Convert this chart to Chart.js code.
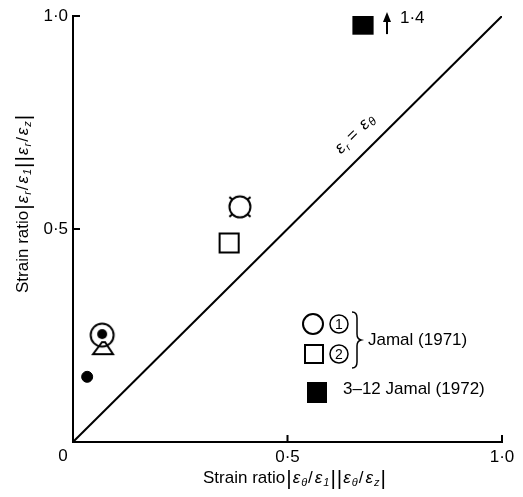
<!DOCTYPE html>
<html>
<head>
<meta charset="utf-8">
<script src="https://cdn.jsdelivr.net/npm/chart.js@4.4.1/dist/chart.umd.min.js"></script>
<style>
  body { margin: 0; background: #fff; }
  canvas { display: block; }
</style>
</head>
<body>
<canvas id="graph" width="523" height="497"></canvas>
<script>
// values
const soloDotX = [0.033];
const soloDotY = [0.153];
const ringDotX = [0.068];
const ringDotY = [0.251];
const triangleX = [0.070];
const triangleY = [0.218];
const tickedCircleX = [0.389];
const tickedCircleY = [0.552];
const openSquareX = [0.364];
const openSquareY = [0.467];
const filledSquareX = [0.676];
const filledSquareY = [0.981];
const equalLineX = [0, 1];
const equalLineY = [0, 1];
const xTickLabels = ['0', '0·5', '1·0'];
const yTickLabels = ['', '0·5', '1·0'];
const offScaleNote = '1·4';
const legendTop = 'Jamal (1971)';
const legendBottom = '3–12 Jamal (1972)';

const FONT = "'Liberation Sans', Arial, sans-serif";

function pts(xs, ys) {
  return xs.map((x, i) => ({ x: x, y: ys[i] }));
}

function marker(size, draw) {
  const c = document.createElement('canvas');
  c.width = size; c.height = size;
  const g = c.getContext('2d');
  g.strokeStyle = '#000'; g.fillStyle = '#000'; g.lineWidth = 2;
  draw(g, size / 2);
  return c;
}

const tickedCircle = marker(36, (g, m) => {
  g.beginPath(); g.arc(m, m, 10.5, 0, Math.PI * 2); g.stroke();
  [45, 135, 225, 315].forEach(a => {
    const r = a * Math.PI / 180;
    g.beginPath();
    g.moveTo(m + Math.cos(r) * 10, m + Math.sin(r) * 10);
    g.lineTo(m + Math.cos(r) * 15, m + Math.sin(r) * 14);
    g.stroke();
  });
});

const ringDot = marker(30, (g, m) => {
  g.beginPath(); g.arc(m, m, 11.5, 0, Math.PI * 2); g.stroke();
  g.beginPath(); g.arc(m, m - 1, 5, 0, Math.PI * 2); g.fill();
});

const flatTriangle = marker(26, (g, m) => {
  g.beginPath();
  g.moveTo(m - 1, m - 7); g.lineTo(m + 2, m - 7);
  g.lineTo(m + 10, m + 5); g.lineTo(m - 10, m + 5);
  g.closePath(); g.stroke();
});

// text with subscripts
function richWidth(ctx, segs) {
  let w = 0;
  segs.forEach(s => { ctx.font = s.f; w += ctx.measureText(s.t).width + (s.gap || 0); });
  return w;
}
function drawRich(ctx, segs, x, y) {
  ctx.textBaseline = 'middle';
  ctx.textAlign = 'left';
  segs.forEach(s => {
    ctx.font = s.f;
    ctx.fillText(s.t, x, y + (s.dy || 0));
    x += ctx.measureText(s.t).width + (s.gap || 0);
  });
}
function ratioLabel(sym) {
  const up = '17px ' + FONT, it = 'italic 17px ' + FONT, sub = 'italic 11px ' + FONT, bar = '21px ' + FONT;
  return [
    { t: 'Strain ratio', f: up, gap: 1 },
    { t: '|', f: bar, dy: 1, gap: 1 },
    { t: 'ε', f: it, gap: 1 }, { t: sym, f: sub, dy: 5, gap: 1 }, { t: '/', f: up, gap: 2 },
    { t: 'ε', f: it, gap: 1 }, { t: '1', f: sub, dy: 5, gap: 1 },
    { t: '|', f: bar, dy: 1, gap: 1 }, { t: '|', f: bar, dy: 1, gap: 1 },
    { t: 'ε', f: it, gap: 1 }, { t: sym, f: sub, dy: 5, gap: 1 }, { t: '/', f: up, gap: 2 },
    { t: 'ε', f: it, gap: 1 }, { t: 'z', f: sub, dy: 5, gap: 1 },
    { t: '|', f: bar, dy: 1 }
  ];
}

const extras = {
  id: 'extras',
  afterDraw(chart) {
    const ctx = chart.ctx;
    const xs = chart.scales.x, ys = chart.scales.y;
    const X = v => xs.getPixelForValue(v), Y = v => ys.getPixelForValue(v);
    ctx.save();
    ctx.fillStyle = '#000'; ctx.strokeStyle = '#000';

    // inward ticks
    ctx.lineWidth = 2;
    ctx.beginPath();
    ctx.moveTo(X(0.5), Y(0)); ctx.lineTo(X(0.5), Y(0) - 7);
    ctx.moveTo(X(1), Y(0)); ctx.lineTo(X(1), Y(0) - 7);
    ctx.moveTo(X(0), Y(0.5)); ctx.lineTo(X(0) + 7, Y(0.5));
    ctx.moveTo(X(0), Y(1)); ctx.lineTo(X(0) + 7, Y(1));
    ctx.stroke();

    // origin label
    ctx.font = '17px ' + FONT;
    ctx.textAlign = 'center'; ctx.textBaseline = 'middle';
    ctx.fillText(xTickLabels[0], X(0) - 10, Y(0) + 14);

    // axis titles
    drawRich(ctx, ratioLabel('θ'), 203, 478);
    ctx.save();
    ctx.translate(23, 293);
    ctx.rotate(-Math.PI / 2);
    drawRich(ctx, ratioLabel('r'), 0, 0);
    ctx.restore();

    // off-scale arrow next to the top square
    const ax = X(filledSquareX[0]) + 24, ay = Y(filledSquareY[0]);
    ctx.lineWidth = 2;
    ctx.beginPath(); ctx.moveTo(ax, ay + 10); ctx.lineTo(ax, ay - 4); ctx.stroke();
    ctx.beginPath(); ctx.moveTo(ax - 4, ay - 2); ctx.lineTo(ax, ay - 12); ctx.lineTo(ax + 4, ay - 2); ctx.closePath(); ctx.fill();
    ctx.font = '17px ' + FONT; ctx.textAlign = 'left';
    ctx.fillText(offScaleNote, ax + 13, ay - 6);

    // label along the equality line
    const t = 0.69, px = X(t), py = Y(t);
    const ang = Math.atan2(Y(1) - Y(0), X(1) - X(0));
    ctx.save();
    ctx.translate(px + Math.sin(ang) * 20, py - Math.cos(ang) * 20);
    ctx.rotate(ang);
    const eq = [
      { t: 'ε', f: 'italic 17px ' + FONT, gap: 1 }, { t: 'r', f: 'italic 10px ' + FONT, dy: 5, gap: 5 },
      { t: '=', f: '17px ' + FONT, gap: 7 },
      { t: 'ε', f: 'italic 17px ' + FONT, gap: 1 }, { t: 'θ', f: 'italic 12px ' + FONT, dy: 4 }
    ];
    drawRich(ctx, eq, -richWidth(ctx, eq) / 2, 0);
    ctx.restore();

    // legend
    ctx.lineWidth = 2;
    ctx.beginPath(); ctx.arc(313, 324, 10, 0, Math.PI * 2); ctx.stroke();
    ctx.strokeRect(305, 345, 18, 18);
    ctx.lineWidth = 1.5;
    ctx.font = '14px ' + FONT; ctx.textAlign = 'center';
    [['1', 324], ['2', 354]].forEach(([d, cy]) => {
      ctx.beginPath(); ctx.arc(339, cy, 9, 0, Math.PI * 2); ctx.stroke();
      ctx.fillText(d, 339, cy + 1);
    });
    // brace
    ctx.lineWidth = 1.5;
    ctx.beginPath();
    ctx.moveTo(352, 312);
    ctx.quadraticCurveTo(357, 312, 357, 318);
    ctx.lineTo(357, 334);
    ctx.quadraticCurveTo(357, 339, 361, 340);
    ctx.quadraticCurveTo(357, 341, 357, 346);
    ctx.lineTo(357, 362);
    ctx.quadraticCurveTo(357, 368, 352, 368);
    ctx.stroke();
    ctx.font = '17px ' + FONT; ctx.textAlign = 'left';
    ctx.fillText(legendTop, 368, 340);
    ctx.fillRect(307, 382, 20, 21);
    ctx.fillText(legendBottom, 343, 389);

    ctx.restore();
  }
};

const ctx = document.getElementById('graph').getContext('2d');
new Chart(ctx, {
  type: 'scatter',
  data: {
    datasets: [
      { data: pts(ringDotX, ringDotY), pointStyle: ringDot, pointRadius: 12, order: 1 },
      { data: pts(triangleX, triangleY), pointStyle: flatTriangle, pointRadius: 10, order: 2 },
      { data: pts(soloDotX, soloDotY), pointStyle: 'circle', pointRadius: 5.5, backgroundColor: '#000', borderColor: '#000', order: 1 },
      { data: pts(tickedCircleX, tickedCircleY), pointStyle: tickedCircle, pointRadius: 12, order: 1 },
      { data: pts(openSquareX, openSquareY), pointStyle: 'rect', pointRadius: 13.5, backgroundColor: 'rgba(0,0,0,0)', borderColor: '#000', borderWidth: 2, order: 1 },
      { data: pts(filledSquareX, filledSquareY), pointStyle: 'rect', pointRadius: 15, backgroundColor: '#000', borderColor: '#000', borderWidth: 0, order: 1 },
      { type: 'line', data: pts(equalLineX, equalLineY), borderColor: '#000', borderWidth: 2, pointRadius: 0, fill: false, order: 3 }
    ]
  },
  options: {
    responsive: false,
    animation: false,
    devicePixelRatio: 1,
    events: [],
    layout: { padding: { top: 16, right: 21, left: 0, bottom: 0 } },
    plugins: { legend: { display: false }, tooltip: { enabled: false } },
    scales: {
      x: {
        type: 'linear', min: 0, max: 1,
        grid: { display: false, drawTicks: false },
        border: { display: true, color: '#000', width: 2 },
        ticks: {
          stepSize: 0.5, padding: 5, color: '#000', maxRotation: 0,
          font: { family: FONT, size: 17 },
          callback: (v, i) => i === 0 ? '' : xTickLabels[i]
        },
        afterFit: s => { s.height = 55; }
      },
      y: {
        type: 'linear', min: 0, max: 1,
        grid: { display: false, drawTicks: false },
        border: { display: true, color: '#000', width: 2 },
        ticks: {
          stepSize: 0.5, padding: 5, color: '#000',
          font: { family: FONT, size: 17 },
          callback: (v, i) => yTickLabels[i]
        },
        afterFit: s => { s.width = 73; }
      }
    }
  },
  plugins: [extras]
});
</script>
</body>
</html>
